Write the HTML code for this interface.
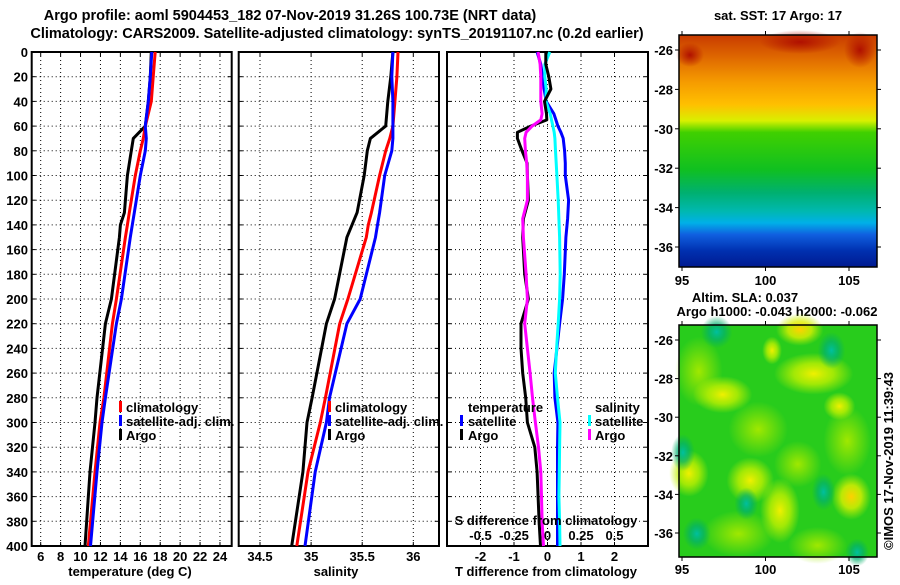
<!DOCTYPE html>
<html><head><meta charset="utf-8">
<style>
html,body{margin:0;padding:0;background:#fff;}
svg text{font-family:"Liberation Sans",Arial,sans-serif;font-weight:bold;font-size:13px;fill:#000;}
svg text.ttl{font-size:14.5px;}
</style></head>
<body>
<svg id="fig" width="900" height="580" viewBox="0 0 900 580" xmlns="http://www.w3.org/2000/svg">
<defs>
<linearGradient id="sstGrad" x1="0" y1="0" x2="0" y2="1">
<stop offset="0" stop-color="#c83a00"/><stop offset="0.1" stop-color="#e06a00"/>
<stop offset="0.2" stop-color="#f59a00"/><stop offset="0.3" stop-color="#ffc000"/>
<stop offset="0.37" stop-color="#d8f000"/><stop offset="0.42" stop-color="#40d000"/>
<stop offset="0.58" stop-color="#10c020"/><stop offset="0.68" stop-color="#00b070"/>
<stop offset="0.76" stop-color="#00b8b0"/><stop offset="0.81" stop-color="#00b0e8"/>
<stop offset="0.86" stop-color="#1060e0"/><stop offset="0.93" stop-color="#0030b0"/>
<stop offset="1" stop-color="#001a90"/></linearGradient>
<radialGradient id="yb"><stop offset="0" stop-color="#f0f000"/><stop offset="0.5" stop-color="#c0f000" stop-opacity="0.8"/><stop offset="1" stop-color="#c0f000" stop-opacity="0"/></radialGradient>
<radialGradient id="ob"><stop offset="0" stop-color="#ffd000"/><stop offset="0.5" stop-color="#e0f000" stop-opacity="0.8"/><stop offset="1" stop-color="#c0f000" stop-opacity="0"/></radialGradient>
<radialGradient id="tb"><stop offset="0" stop-color="#00c0a0"/><stop offset="0.5" stop-color="#00b070" stop-opacity="0.7"/><stop offset="1" stop-color="#00b060" stop-opacity="0"/></radialGradient>
<radialGradient id="gb"><stop offset="0" stop-color="#a0e800"/><stop offset="1" stop-color="#a0e800" stop-opacity="0"/></radialGradient>
<radialGradient id="rb"><stop offset="0" stop-color="#b01000"/><stop offset="1" stop-color="#b01000" stop-opacity="0"/></radialGradient>
</defs>

<text class="ttl" x="290" y="20" text-anchor="middle">Argo profile: aoml 5904453_182 07-Nov-2019 31.26S 100.73E (NRT data)</text>
<text class="ttl" x="337" y="38" text-anchor="middle">Climatology: CARS2009. Satellite-adjusted climatology: synTS_20191107.nc (0.2d earlier)</text>

<g id="p1"></g>
<g id="p2"></g>
<g id="p3"></g>

<g>
<rect x="119" y="401" width="3" height="11" fill="#f00"/><text x="126" y="412">climatology</text>
<rect x="119" y="415" width="3" height="11" fill="#00f"/><text x="126" y="426">satellite-adj. clim.</text>
<rect x="119" y="429" width="3" height="11" fill="#000"/><text x="126" y="440">Argo</text>
</g>
<g>
<rect x="328" y="401" width="3" height="11" fill="#f00"/><text x="335" y="412">climatology</text>
<rect x="328" y="415" width="3" height="11" fill="#00f"/><text x="335" y="426">satellite-adj. clim.</text>
<rect x="328" y="429" width="3" height="11" fill="#000"/><text x="335" y="440">Argo</text>
</g>
<g>
<text x="468" y="412">temperature</text>
<rect x="460" y="415" width="3" height="11" fill="#00f"/><text x="468" y="426">satellite</text>
<rect x="460" y="429" width="3" height="11" fill="#000"/><text x="468" y="440">Argo</text>
<text x="595" y="412">salinity</text>
<rect x="588" y="415" width="3" height="11" fill="#0ff"/><text x="595" y="426">satellite</text>
<rect x="588" y="429" width="3" height="11" fill="#f0f"/><text x="595" y="440">Argo</text>
</g>

<text x="130" y="576" text-anchor="middle">temperature (deg C)</text>
<text x="336" y="576" text-anchor="middle">salinity</text>
<text x="546" y="576" text-anchor="middle">T difference from climatology</text>
<text x="546" y="525" text-anchor="middle">S difference from climatology</text>

<text x="778" y="20" text-anchor="middle">sat. SST: 17 Argo: 17</text>
<g>
<rect x="679" y="35" width="198" height="232" fill="url(#sstGrad)"/>
<ellipse cx="800" cy="42" rx="40" ry="12" fill="url(#rb)"/>
<ellipse cx="860" cy="50" rx="16" ry="18" fill="url(#rb)"/>
<ellipse cx="690" cy="55" rx="14" ry="12" fill="url(#rb)"/>
</g>
<text x="745" y="302" text-anchor="middle">Altim. SLA: 0.037</text>
<text x="777" y="316" text-anchor="middle">Argo h1000: -0.043 h2000: -0.062</text>
<g>
<rect x="679" y="325" width="198" height="232" fill="#28cc1c"/>
<g id="blobs"></g>
</g>
<text transform="translate(893,550) rotate(-90)">©IMOS 17-Nov-2019 11:39:43</text>
<g id="mapaxes"></g>
</svg>
<script>
const NS="http://www.w3.org/2000/svg";
const depthLevels=[0,20,40,60,70,80,100,130,140,150,200,220,280,300,340,400];
const tempArgo=[17.1,17.0,16.8,16.5,15.3,15.1,14.7,14.4,14.0,13.9,13.1,12.5,11.65,11.45,10.95,10.45];
const tempClim=[17.5,17.3,17.1,16.5,16.3,16.0,15.5,14.9,14.7,14.5,13.6,13.2,12.35,11.95,11.45,10.78];
const tempSat=[17.15,17.0,16.8,16.5,16.6,16.5,16.0,15.4,15.2,15.0,14.1,13.6,12.5,12.15,11.65,11.0];
const salArgo=[35.80,35.78,35.75,35.73,35.58,35.55,35.52,35.45,35.40,35.35,35.23,35.15,35.01,34.96,34.92,34.81];
const salClim=[35.85,35.84,35.82,35.80,35.77,35.73,35.67,35.59,35.56,35.54,35.36,35.28,35.14,35.09,34.97,34.86];
const salSat=[35.80,35.79,35.80,35.80,35.80,35.79,35.72,35.67,35.65,35.63,35.48,35.35,35.18,35.15,35.04,34.94];
const diffDepths=[0,10,20,30,40,50,55,60,65,70,80,90,100,120,135,150,180,200,220,240,260,280,300,320,340,360,380,400];
const tDiffArgo=[-0.05,-0.05,0.04,0.1,-0.09,-0.03,-0.02,-0.5,-0.9,-0.9,-0.76,-0.61,-0.6,-0.57,-0.72,-0.74,-0.68,-0.57,-0.79,-0.79,-0.74,-0.65,-0.6,-0.38,-0.31,-0.28,-0.25,-0.21];
const tDiffSat=[-0.31,-0.2,-0.15,-0.1,-0.04,0.19,0.25,0.31,0.4,0.47,0.51,0.53,0.53,0.63,0.6,0.55,0.5,0.45,0.36,0.28,0.2,0.22,0.31,0.3,0.3,0.3,0.3,0.3];
const sDiffSat=[0.017,-0.02,-0.02,-0.01,-0.012,0.02,0.03,0.04,0.05,0.055,0.06,0.065,0.07,0.08,0.085,0.09,0.095,0.09,0.08,0.068,0.058,0.075,0.093,0.09,0.088,0.085,0.09,0.093];
const sDiffArgo=[-0.07,-0.055,-0.05,-0.05,-0.05,-0.04,-0.05,-0.115,-0.16,-0.17,-0.165,-0.155,-0.15,-0.15,-0.185,-0.18,-0.16,-0.15,-0.17,-0.15,-0.13,-0.112,-0.09,-0.067,-0.05,-0.045,-0.04,-0.03];
const depthTicks=[0,20,40,60,80,100,120,140,160,180,200,220,240,260,280,300,320,340,360,380,400];
const tempTicks=[6,8,10,12,14,16,18,20,22,24];
const salTicks=[34.5,35,35.5,36];
const salTickLabels=["34.5","35","35.5","36"];
const tDiffTicks=[-2,-1,0,1,2];
const sDiffTicks=[-0.5,-0.25,0,0.25,0.5];
const sDiffTickLabels=["-0.5","-0.25","0","0.25","0.5"];
const latTicks=[-26,-28,-30,-32,-34,-36];
const lonTicks=[95,100,105];

const TOP=52,BOT=546;
const yD=d=>TOP+(d/400)*(BOT-TOP);
const xT=t=>40.7+(t-6)*9.96;
const xS=s=>260+(s-34.5)*102.2;
const xDT=t=>547.5+t*33.5;
const xDS=s=>547.5+s*4*33.5;

function el(tag,attrs,parent){const e=document.createElementNS(NS,tag);for(const k in attrs)e.setAttribute(k,attrs[k]);(parent||document.getElementById('fig')).appendChild(e);return e;}

function panel(g,x0,x1,xTicks,xfn){
  for(const d of depthTicks){
    if(d>0&&d<400){const l=el('line',{x1:x0,x2:x1,y1:yD(d),y2:yD(d),stroke:'#000','stroke-width':1,'stroke-dasharray':'1,3'},g);
    
    }
    el('line',{x1:x0,x2:x0+4,y1:yD(d),y2:yD(d),stroke:'#000'},g);
    el('line',{x1:x1-4,x2:x1,y1:yD(d),y2:yD(d),stroke:'#000'},g);
  }
  for(const t of xTicks){
    const x=xfn(t);
    const l=el('line',{x1:x,x2:x,y1:TOP,y2:BOT,stroke:'#000','stroke-width':1,'stroke-dasharray':'1,3'},g);
    
    
    el('line',{x1:x,x2:x,y1:TOP,y2:TOP+4,stroke:'#000'},g);
    el('line',{x1:x,x2:x,y1:BOT-4,y2:BOT,stroke:'#000'},g);
  }
  const r=el('rect',{x:x0,y:TOP,width:x1-x0,height:BOT-TOP,fill:'none',stroke:'#000','stroke-width':2},g);
  
  
}
function series(g,depths,vals,xfn,color,name){
  const pts=vals.map((v,i)=>xfn(v).toFixed(1)+','+yD(depths[i]).toFixed(1)).join(' ');
  const p=el('polyline',{points:pts,fill:'none',stroke:color,'stroke-width':3,'stroke-linejoin':'round'},g);
  
  
}
const p1=document.getElementById('p1'),p2=document.getElementById('p2'),p3=document.getElementById('p3');
panel(p1,31.7,231.7,tempTicks,xT);
panel(p2,238.7,439,salTicks,xS);
panel(p3,447,648,tDiffTicks,xDT);

series(p1,depthLevels,tempArgo,xT,'#000','temp-argo-line');
series(p1,depthLevels,tempClim,xT,'#f00','temp-climatology-line');
series(p1,depthLevels,tempSat,xT,'#00f','temp-satellite-line');
series(p2,depthLevels,salArgo,xS,'#000','sal-argo-line');
series(p2,depthLevels,salClim,xS,'#f00','sal-climatology-line');
series(p2,depthLevels,salSat,xS,'#00f','sal-satellite-line');
series(p3,diffDepths,tDiffSat,xDT,'#00f','tdiff-satellite-line');
series(p3,diffDepths,sDiffSat,xDS,'#0ff','sdiff-satellite-line');
series(p3,diffDepths,tDiffArgo,xDT,'#000','tdiff-argo-line');
series(p3,diffDepths,sDiffArgo,xDS,'#f0f','sdiff-argo-line');

for(const d of depthTicks){const t=el('text',{x:28,y:yD(d)+5,'text-anchor':'end'});t.textContent=d;

}
for(const v of tempTicks){const t=el('text',{x:xT(v),y:561,'text-anchor':'middle'});t.textContent=v;

}
salTicks.forEach((v,i)=>{const t=el('text',{x:xS(v),y:561,'text-anchor':'middle'});t.textContent=salTickLabels[i];

});
for(const v of tDiffTicks){const t=el('text',{x:xDT(v),y:561,'text-anchor':'middle'});t.textContent=v;

}
sDiffTicks.forEach((v,i)=>{const t=el('text',{x:xDS(v),y:540,'text-anchor':'middle'});t.textContent=sDiffTickLabels[i];

});

const MX0=679,MX1=877;
const xLon=l=>682+(l-95)*16.7;
const maps=[{y0:35,y1:267,lat26:50,lat36:247,ly:285},{y0:325,y1:557,lat26:340,lat36:533,ly:574}];
const ma=document.getElementById('mapaxes');
for(const m of maps){
  const r=el('rect',{x:MX0,y:m.y0,width:MX1-MX0,height:m.y1-m.y0,fill:'none',stroke:'#000','stroke-width':1.5},ma);
  
  
  const yL=lat=>m.lat26+(lat+26)/(-10)*(m.lat36-m.lat26);
  for(const lat of latTicks){
    el('line',{x1:MX0-4,x2:MX0,y1:yL(lat),y2:yL(lat),stroke:'#000'},ma);
    el('line',{x1:MX1,x2:MX1+4,y1:yL(lat),y2:yL(lat),stroke:'#000'},ma);
    const t=el('text',{x:MX0-6,y:yL(lat)+5,'text-anchor':'end'},ma);t.textContent=lat;
    
    
  }
  for(const lon of lonTicks){
    el('line',{x1:xLon(lon),x2:xLon(lon),y1:m.y0-4,y2:m.y0,stroke:'#000'},ma);
    el('line',{x1:xLon(lon),x2:xLon(lon),y1:m.y1,y2:m.y1+4,stroke:'#000'},ma);
    const t=el('text',{x:xLon(lon),y:m.ly,'text-anchor':'middle'},ma);t.textContent=lon;
    
    
  }
}
const blobs=[[0.1,0.2,0.12,0.15,'gb'],[0.4,0.45,0.15,0.12,'gb'],[0.85,0.5,0.12,0.15,'gb'],[0.3,0.9,0.18,0.1,'gb'],[0.7,0.95,0.15,0.08,'gb'],[0.6,0.6,0.12,0.1,'gb'],
[0.22,0.30,0.15,0.08,'yb'],[0.68,0.21,0.2,0.09,'yb'],[0.61,0.02,0.12,0.07,'ob'],[0.47,0.11,0.05,0.06,'yb'],
[0.87,0.74,0.1,0.1,'ob'],[0.51,0.8,0.1,0.14,'yb'],[0.05,0.64,0.1,0.1,'yb'],[0.36,0.67,0.12,0.1,'yb'],[0.81,0.35,0.08,0.06,'yb'],
[0.19,0.03,0.08,0.07,'tb'],[0.02,0.55,0.06,0.08,'tb'],[0.34,0.77,0.06,0.07,'tb'],[0.73,0.72,0.06,0.08,'tb'],[0.09,0.9,0.07,0.07,'tb'],[0.77,0.11,0.07,0.08,'tb'],[0.9,0.98,0.06,0.06,'tb']];
const bg=document.getElementById('blobs');
for(const b of blobs){el('ellipse',{cx:MX0+b[0]*198,cy:325+b[1]*232,rx:b[2]*198,ry:b[3]*232,fill:'url(#'+b[4]+')'},bg);}
</script>
</body></html>
